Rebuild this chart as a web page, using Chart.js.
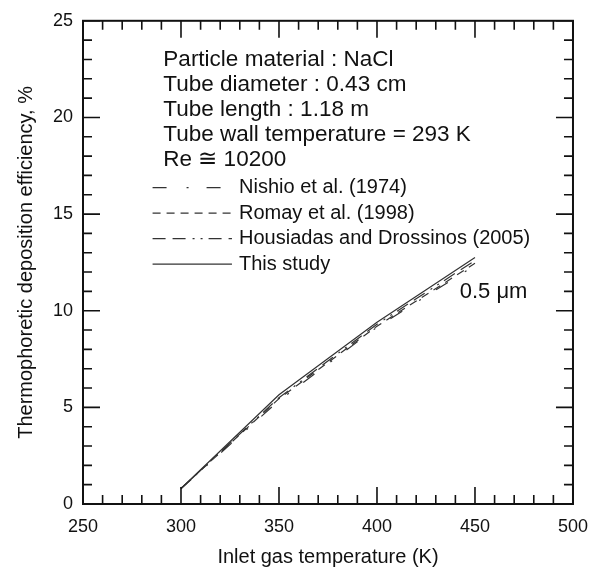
<!DOCTYPE html>
<html>
<head>
<meta charset="utf-8">
<script src="https://cdn.jsdelivr.net/npm/chart.js@4/dist/chart.umd.min.js"></script>
<style>
  html, body { margin: 0; padding: 0; background: #fff; }
  #wrap { width: 600px; height: 571px; }
</style>
</head>
<body>
<div id="wrap"><canvas id="effChart" width="600" height="571"></canvas></div>
<script>
// inlet gas temperature, K
const temps = [300, 350, 400, 450];
// thermophoretic deposition efficiency, %
const nishio = [0.8, 5.35, 9.15, 12.35];
const romay = [0.8, 5.45, 9.2, 12.45];
const housiadas = [0.8, 5.5, 9.3, 12.6];
const thisStudy = [0.8, 5.65, 9.4, 12.75];

const seriesLabels = [
  "Nishio et al. (1974)",
  "Romay et al. (1998)",
  "Housiadas and Drossinos (2005)",
  "This study",
];
const infoLines = [
  "Particle material : NaCl",
  "Tube diameter : 0.43 cm",
  "Tube length : 1.18 m",
  "Tube wall temperature = 293 K",
  "Re \u2245 10200",
];
const sizeLabel = "0.5 \u03bcm";

const FONT = "'Liberation Sans', Arial, sans-serif";
const INK = "#111";

// ticks pointing inward on all four sides, plus the frame
const frameTicks = {
  id: "frameTicks",
  afterDraw(chart) {
    const { ctx, chartArea: a, scales } = chart;
    const x = scales.x;
    const y = scales.y;
    ctx.save();
    ctx.strokeStyle = INK;
    ctx.lineWidth = 1.6;
    ctx.beginPath();
    for (let v = x.min; v <= x.max; v += 10) {
      const px = x.getPixelForValue(v);
      const len = v % 50 === 0 ? 17 : 9;
      ctx.moveTo(px, a.bottom);
      ctx.lineTo(px, a.bottom - len);
      ctx.moveTo(px, a.top);
      ctx.lineTo(px, a.top + len);
    }
    for (let v = y.min; v <= y.max; v += 1) {
      const py = y.getPixelForValue(v);
      const len = v % 5 === 0 ? 17 : 9;
      ctx.moveTo(a.left, py);
      ctx.lineTo(a.left + len, py);
      ctx.moveTo(a.right, py);
      ctx.lineTo(a.right - len, py);
    }
    ctx.stroke();
    ctx.lineWidth = 2;
    ctx.strokeRect(a.left, a.top, a.right - a.left, a.bottom - a.top);
    ctx.restore();
  },
};

// text block and hand-made legend inside the plot
const notes = {
  id: "notes",
  afterDatasetsDraw(chart) {
    const { ctx, scales } = chart;
    const x = scales.x;
    const y = scales.y;
    ctx.save();
    ctx.fillStyle = INK;
    ctx.textBaseline = "middle";
    ctx.textAlign = "left";

    ctx.font = "22.5px " + FONT;
    const tx = x.getPixelForValue(291);
    const ty = y.getPixelForValue(23.0);
    infoLines.forEach((t, i) => ctx.fillText(t, tx, ty + i * 25));

    ctx.font = "20px " + FONT;
    const lx0 = x.getPixelForValue(285.5);
    const lx1 = x.getPixelForValue(326);
    const ltx = x.getPixelForValue(329.6);
    const ly = y.getPixelForValue(16.37);
    chart.data.datasets.forEach((ds, i) => {
      const py = ly + i * 25.5;
      ctx.strokeStyle = "#333";
      ctx.lineWidth = 1.2;
      ctx.setLineDash(ds.borderDash || []);
      ctx.beginPath();
      ctx.moveTo(lx0, py);
      ctx.lineTo(lx1, py);
      ctx.stroke();
      ctx.setLineDash([]);
      ctx.fillText(ds.label, ltx, py);
    });

    ctx.font = "22px " + FONT;
    ctx.fillText(sizeLabel, x.getPixelForValue(442.2), y.getPixelForValue(10.96));
    ctx.restore();
  },
};

const lineStyle = {
  borderColor: "#333",
  borderWidth: 1.2,
  pointRadius: 0,
  fill: false,
  tension: 0,
};

const effChart = new Chart(document.getElementById("effChart").getContext("2d"), {
  type: "line",
  data: {
    datasets: [
      { ...lineStyle, label: seriesLabels[0], data: temps.map((t, i) => ({ x: t, y: nishio[i] })), borderDash: [14, 20, 2, 18] },
      { ...lineStyle, label: seriesLabels[1], data: temps.map((t, i) => ({ x: t, y: romay[i] })), borderDash: [8, 6] },
      { ...lineStyle, label: seriesLabels[2], data: temps.map((t, i) => ({ x: t, y: housiadas[i] })), borderDash: [13, 7, 13, 7, 2, 6, 2, 6] },
      { ...lineStyle, label: seriesLabels[3], data: temps.map((t, i) => ({ x: t, y: thisStudy[i] })) },
    ],
  },
  options: {
    responsive: false,
    animation: false,
    layout: { padding: { left: 0, right: 24, top: 13, bottom: 0 } },
    plugins: { legend: { display: false }, tooltip: { enabled: false } },
    scales: {
      x: {
        type: "linear",
        min: 250,
        max: 500,
        grid: { display: false, drawTicks: false },
        border: { display: false },
        ticks: { stepSize: 50, padding: 12, color: INK, font: { family: FONT, size: 18 } },
        title: {
          display: true,
          text: "Inlet gas temperature (K)",
          color: INK,
          font: { family: FONT, size: 20 },
          padding: { top: 0, bottom: 2 },
        },
        afterFit: (scale) => { scale.height = 67; },
      },
      y: {
        min: 0,
        max: 25,
        grid: { display: false, drawTicks: false },
        border: { display: false },
        ticks: { stepSize: 5, padding: 10, color: INK, font: { family: FONT, size: 18 } },
        title: {
          display: true,
          text: "Thermophoretic deposition efficiency, %",
          color: INK,
          font: { family: FONT, size: 20 },
          padding: { top: 14, bottom: 0 },
        },
        afterFit: (scale) => { scale.width = 83; },
      },
    },
  },
  plugins: [frameTicks, notes],
});
</script>
</body>
</html>
